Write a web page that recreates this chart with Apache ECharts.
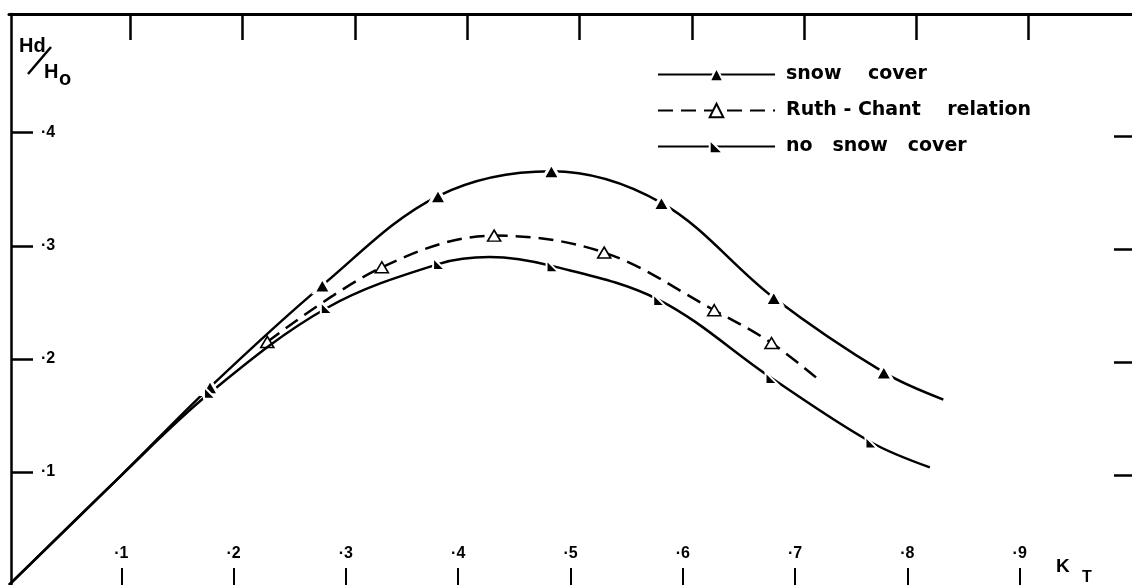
<!DOCTYPE html>
<html>
<head>
<meta charset="utf-8">
<script src="https://cdn.jsdelivr.net/npm/echarts@6/dist/echarts.min.js"></script>
<style>
  html, body { margin: 0; padding: 0; background: #fff; }
  #chart { width: 1132px; height: 585px; }
</style>
</head>
<body>
<div id="chart"></div>
<script>
// Shared straight start of the curves (K_T, Hd/Ho)
const leadInKt = [0, 0.1];
const leadInHd = [0, 0.097];

// Snow cover: observed points and the end of the drawn curve
const snowKt = [0.179, 0.279, 0.382, 0.483, 0.581, 0.681, 0.779];
const snowHd = [0.175, 0.265, 0.344, 0.366, 0.338, 0.254, 0.188];
const snowEnd = [0.832, 0.164];

// Ruth-Chant relation
const ruthKt = [0.230, 0.332, 0.432, 0.530, 0.628, 0.679];
const ruthHd = [0.215, 0.281, 0.309, 0.294, 0.243, 0.214];
const ruthEnd = [0.723, 0.180];

// No snow cover (plus the crest of the curve between two observations)
const noSnowKt = [0.179, 0.283, 0.383, 0.484, 0.579, 0.679, 0.768];
const noSnowHd = [0.170, 0.245, 0.284, 0.282, 0.252, 0.183, 0.126];
const noSnowCrest = [0.428, 0.290];
const noSnowEnd = [0.820, 0.104];

// Tick values
const ktTicks = [0.1, 0.2, 0.3, 0.4, 0.5, 0.6, 0.7, 0.8, 0.9];
const hdTicks = [0.1, 0.2, 0.3, 0.4];

// Legend names and their printed form
const seriesNames = ['snow cover', 'Ruth - Chant relation', 'no snow cover'];
const legendText = ['snow    cover', 'Ruth - Chant    relation', 'no   snow   cover'];

const INK = '#000';

// Curve nodes: observations carry a marker, other nodes only shape the line
function curve(leadKt, leadHd, kt, hd, extra, end) {
  const pts = [];
  leadKt.forEach((x, i) => pts.push({ value: [x, leadHd[i]], symbol: 'none' }));
  kt.forEach((x, i) => pts.push({ value: [x, hd[i]] }));
  extra.forEach(p => pts.push({ value: p, symbol: 'none' }));
  pts.push({ value: end, symbol: 'none' });
  return pts.sort((a, b) => a.value[0] - b.value[0]);
}

const tickLabel = v => '\u00b7' + Math.round(v * 10);
const labelFont = { color: INK, fontSize: 16, fontWeight: 'bold', fontFamily: 'Liberation Sans' };

const chart = echarts.init(document.getElementById('chart'), null, { renderer: 'canvas' });

chart.setOption({
  animation: false,
  backgroundColor: '#fff',
  grid: { left: 9, right: -3, top: 14, bottom: -1, containLabel: false },
  legend: {
    orient: 'vertical',
    left: 652,
    top: 60,
    itemWidth: 117,
    itemHeight: 17,
    itemGap: 17,
    data: seriesNames,
    formatter: name => legendText[seriesNames.indexOf(name)],
    textStyle: { color: INK, fontSize: 19, fontWeight: 'bold', fontFamily: 'DejaVu Sans', padding: [0, 0, 0, 6] }
  },
  xAxis: [
    {
      type: 'value', position: 'bottom', min: 0, max: 1,
      axisLine: { show: false, onZero: false },
      splitLine: { show: false },
      axisTick: { show: true, inside: true, length: 17, customValues: ktTicks, lineStyle: { color: INK, width: 2 } },
      axisLabel: Object.assign({ show: true, inside: true, margin: 23, customValues: ktTicks, formatter: tickLabel }, labelFont)
    },
    {
      type: 'value', position: 'top', min: -0.008, max: 0.992,
      axisLine: { show: true, onZero: false, lineStyle: { color: INK, width: 3 } },
      splitLine: { show: false },
      axisTick: { show: true, inside: true, length: 26, customValues: ktTicks, lineStyle: { color: INK, width: 2.5 } },
      axisLabel: { show: false }
    }
  ],
  yAxis: [
    {
      type: 'value', position: 'left', min: 0, max: 0.505, offset: -2,
      axisLine: { show: true, onZero: false, lineStyle: { color: INK, width: 2.5 } },
      splitLine: { show: false },
      axisTick: { show: true, inside: true, length: 22, customValues: hdTicks, lineStyle: { color: INK, width: 2.5 } },
      axisLabel: Object.assign({ show: true, inside: true, margin: 30, customValues: hdTicks, formatter: tickLabel }, labelFont)
    },
    {
      type: 'value', position: 'right', min: 0.003, max: 0.508,
      axisLine: { show: false, onZero: false },
      splitLine: { show: false },
      axisTick: { show: true, inside: true, length: 18, customValues: hdTicks, lineStyle: { color: INK, width: 2.5 } },
      axisLabel: { show: false }
    }
  ],
  series: [
    {
      name: seriesNames[0], type: 'line', smooth: 0.35,
      data: curve(leadInKt, leadInHd, snowKt, snowHd, [], snowEnd),
      symbol: 'triangle', symbolSize: [17, 15],
      lineStyle: { color: INK, width: 2.5 },
      itemStyle: { color: INK, borderColor: '#fff', borderWidth: 3 },
      z: 3
    },
    {
      name: seriesNames[1], type: 'line', smooth: 0.35,
      data: curve([], [], ruthKt, ruthHd, [], ruthEnd),
      symbol: 'triangle', symbolSize: [13, 11],
      lineStyle: { color: INK, width: 2.5, type: [15, 8] },
      itemStyle: { color: '#fff', borderColor: INK, borderWidth: 1.6 },
      z: 2
    },
    {
      name: seriesNames[2], type: 'line', smooth: 0.35,
      data: curve(leadInKt, leadInHd, noSnowKt, noSnowHd, [noSnowCrest], noSnowEnd),
      symbol: 'path://M0,0 L10,10 L0,10 Z', symbolSize: [12, 12],
      lineStyle: { color: INK, width: 2.5 },
      itemStyle: { color: INK, borderColor: '#fff', borderWidth: 2 },
      z: 3
    }
  ],
  graphic: [
    { type: 'text', left: 19, top: 36, style: { text: 'Hd', fill: INK, font: 'bold 20px "Liberation Sans"' } },
    { type: 'line', shape: { x1: 28, y1: 74, x2: 51, y2: 47 }, style: { stroke: INK, lineWidth: 2.5 } },
    { type: 'text', left: 44, top: 62, style: { text: 'H', fill: INK, font: 'bold 20px "Liberation Sans"' } },
    { type: 'text', left: 59, top: 69, style: { text: 'o', fill: INK, font: 'bold 20px "Liberation Sans"' } },
    { type: 'text', left: 1056, top: 557, style: { text: 'K', fill: INK, font: 'bold 19px "Liberation Sans"' } },
    { type: 'text', left: 1082, top: 570, style: { text: 'T', fill: INK, font: 'bold 16px "Liberation Sans"' } }
  ]
});
</script>
</body>
</html>
